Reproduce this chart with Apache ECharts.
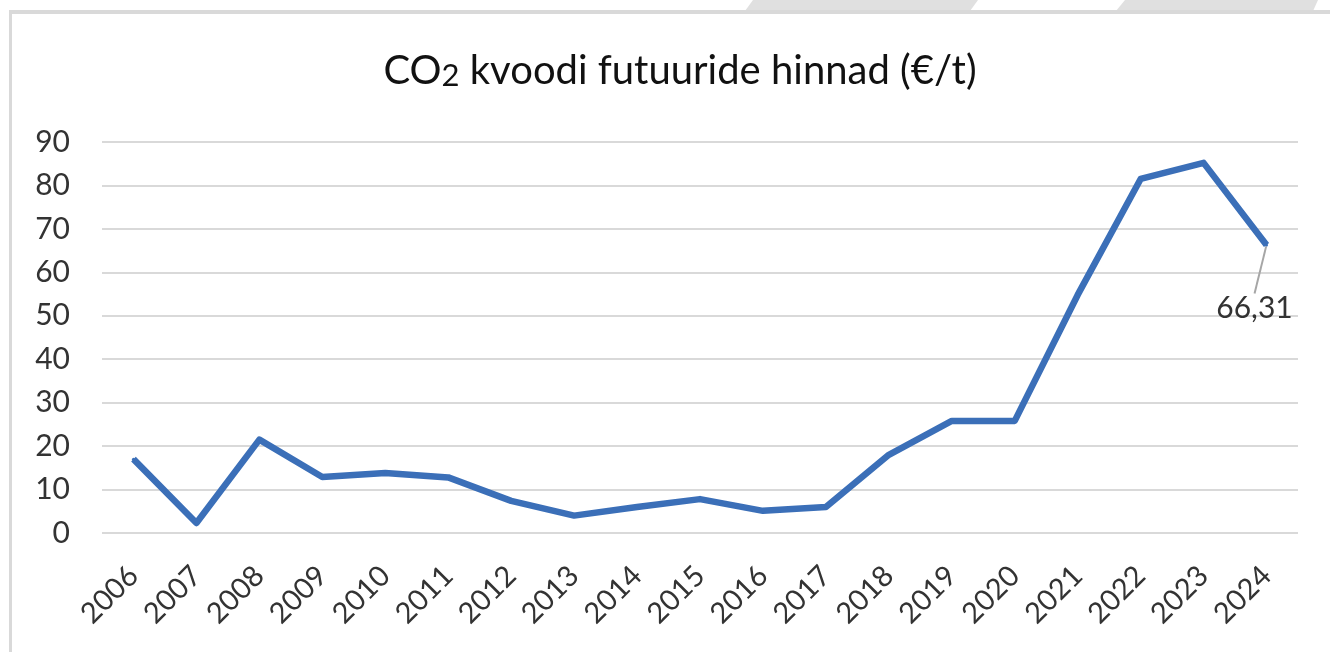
<!DOCTYPE html>
<html>
<head>
  <meta charset="utf-8">
  <title>CO2 kvoodi futuuride hinnad</title>
  <script src="https://cdn.jsdelivr.net/npm/echarts@6/dist/echarts.min.js"></script>
  <style>
    html, body { margin: 0; padding: 0; background: #fff; }
  </style>
</head>
<body>
  <div id="chart" style="width: 1330px; height: 652px;"></div>

  <script>
    // aastad ja hinnad (€/t)
    const years = ['2006', '2007', '2008', '2009', '2010', '2011', '2012', '2013', '2014',
      '2015', '2016', '2017', '2018', '2019', '2020', '2021', '2022', '2023', '2024'];
    const prices = [17, 2.3, 21.5, 12.9, 13.8, 12.8, 7.4, 4, 6, 7.8, 5.1, 6, 18, 25.8, 25.8, 54.8, 81.5, 85.2, 66.31];
    const yTicks = [0, 10, 20, 30, 40, 50, 60, 70, 80, 90];

    const font = 'Lato';
    const blue = '#3b6fb8';
    const chart = echarts.init(document.getElementById('chart'));

    // viimane punkt saab sildi
    const seriesData = prices.map(function (v, i) {
      if (i !== prices.length - 1) return v;
      return {
        value: v,
        label: {
          show: true,
          position: 'bottom',
          padding: [16, 0, 0, 0],
          formatter: function (p) { return String(p.value).replace('.', ','); },
          fontFamily: font,
          fontSize: 30,
          color: '#333'
        },
        labelLine: { show: true, lineStyle: { color: '#a6a6a6', width: 2 } }
      };
    });

    chart.setOption({
      animation: false,
      backgroundColor: '#fff',
      title: {
        text: 'CO{s|2} kvoodi futuuride hinnad (€/t)',
        left: 675,
        top: 46,
        textAlign: 'center',
        textStyle: {
          fontFamily: font,
          fontSize: 40,
          fontWeight: 'normal',
          color: '#111',
          rich: {
            s: { fontFamily: font, fontSize: 31, color: '#111', verticalAlign: 'bottom', padding: [7, 0, 0, 0] }
          }
        }
      },
      grid: { left: 102, right: 32, top: 142, bottom: 119 },
      xAxis: {
        type: 'category',
        data: years,
        boundaryGap: true,
        axisLine: { show: false },
        axisTick: { show: false },
        axisLabel: {
          rotate: 45,
          margin: 38,
          interval: 0,
          fontFamily: font,
          fontSize: 29,
          color: '#333'
        }
      },
      yAxis: {
        type: 'value',
        min: yTicks[0],
        max: yTicks[yTicks.length - 1],
        interval: 10,
        axisLine: { show: false },
        axisTick: { show: false },
        axisLabel: { margin: 32, fontFamily: font, fontSize: 30, color: '#333' },
        splitLine: { lineStyle: { color: '#d9d9d9', width: 2 } }
      },
      series: [{
        type: 'line',
        data: seriesData,
        symbol: 'circle',
        symbolSize: 3,
        showSymbol: true,
        lineStyle: { color: blue, width: 6.5, join: 'round' },
        itemStyle: { color: blue },
        labelLayout: { dx: -12, dy: 26 }
      }],
      graphic: [
        // raam ja ülemised hallid ribad (ekraanipildi servad)
        { type: 'polygon', shape: { points: [[745, 11], [753, 0], [978, 0], [970, 11]] }, style: { fill: '#e0e0e0' } },
        { type: 'polygon', shape: { points: [[1116, 11], [1125, 0], [1318, 0], [1313, 11]] }, style: { fill: '#e0e0e0' } },
        { type: 'rect', shape: { x: 9, y: 10, width: 1321, height: 4 }, style: { fill: '#d9d9d9' } },
        { type: 'rect', shape: { x: 9, y: 10, width: 3, height: 642 }, style: { fill: '#d9d9d9' } }
      ]
    });
  </script>
</body>
</html>
